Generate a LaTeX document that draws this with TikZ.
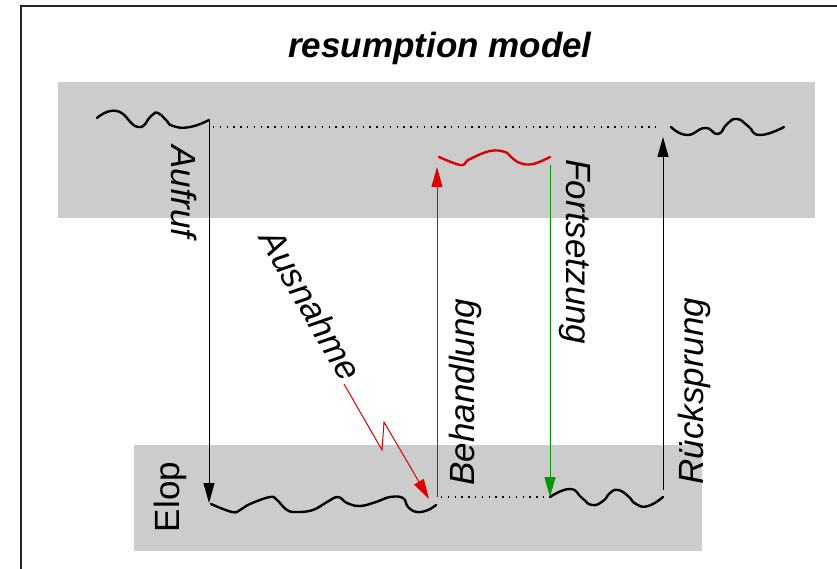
\documentclass[tikz,border=0pt]{standalone}
\usepackage{fontspec}
\setmainfont{Liberation Sans}
\usetikzlibrary{arrows.meta}
\definecolor{panel}{HTML}{CCCCCC}
\definecolor{exred}{HTML}{DD0000}
\definecolor{contgreen}{HTML}{009900}
\tikzset{
  panelbox/.style={fill=panel, draw=none},
  wave/.style={line width=2.4pt, line cap=round, line join=round},
  flow/.style={line width=1pt, -{Triangle[length=20pt, width=11pt]}},
  gap/.style={line width=1.2pt, dash pattern=on 1.4pt off 5.4pt},
  lbl/.style={inner sep=0pt, font=\fontsize{35}{40}\selectfont\itshape},
}
\begin{document}
\begin{tikzpicture}[x=1pt, y=-1pt]
  \useasboundingbox (0,0) rectangle (837,569);
  % frame
  \draw[line width=1.4pt, black!85] (21,569) -- (21,6) -- (837,6);
  % title
  \node[inner sep=0pt, font=\fontsize{35}{40}\selectfont\bfseries\itshape] (title) at (440,48) {resumption model};
  % grey panels
  \fill[panelbox] (58,82) rectangle (815,218);
  \fill[panelbox] (134,445) rectangle (702,551);

  % anchor points of the control flow
  \coordinate (callpt) at (209,120);
  \coordinate (elopin) at (209,503);
  \coordinate (handlerbot) at (437,497);
  \coordinate (handlertop) at (437,167);
  \coordinate (resumetop) at (550,165);
  \coordinate (resumebot) at (550,497);
  \coordinate (retbot) at (663,490);
  \coordinate (rettop) at (663,137);
  \coordinate (dotleft) at (213,127);
  \coordinate (dotright) at (659,127);
  \coordinate (bdotleft) at (441,497);
  \coordinate (bdotright) at (547,497);
  \coordinate (excstart) at (344,384);
  \coordinate (excbend) at (382,450);
  \coordinate (excback) at (384,422);
  \coordinate (exctip) at (429,499);

  % caller, before the call
  \draw[wave] plot[smooth, tension=0.9] coordinates {(97,118) (117,111) (138,127) (151,116) (158,113) (166,120) (173,126) (190,127) (209,120)};
  % caller, after the return
  \draw[wave] plot[smooth, tension=0.9] coordinates {(671,127) (687,135) (705,128) (718,134) (727,124) (737,119) (748,126) (760,135) (784,127)};
  % handler
  \draw[wave, exred] plot[smooth, tension=0.7] coordinates {(439,157) (460,165) (466,162) (470,159) (490,151) (505,152) (511,157) (520,163) (533,164) (550,157)};
  % called operation up to the exception
  \draw[wave] plot[smooth, tension=0.7] coordinates {(211,504) (232,512) (240,510) (250,504) (270,497) (277,500) (287,510) (297,512) (313,510) (327,502) (338,497) (347,503) (360,506) (376,502) (390,497) (403,498) (408,507) (417,512) (428,510) (436,505)};
  % called operation after the resumption
  \draw[wave] plot[smooth, tension=0.9] coordinates {(550,497) (570,489) (582,498) (592,505) (603,501) (610,493) (618,490) (628,496) (636,504) (648,506) (663,497)};

  % skipped parts
  \draw[gap] (dotleft) -- (dotright);
  \draw[gap] (bdotleft) -- (bdotright);

  % control transfers
  \draw[flow] (callpt) -- (elopin);
  \draw[flow, exred] (handlerbot) -- (handlertop);
  \draw[flow, contgreen] (resumetop) -- (resumebot);
  \draw[flow] (retbot) -- (rettop);
  \draw[flow, exred] (excstart) -- (excbend) -- (excback) -- (exctip);

  % labels
  \node[lbl, rotate=-90] (aufruf) at (184,192) {Aufruf};
  \node[lbl, rotate=-60] (ausnahme) at (311,305) {Ausnahme};
  \node[lbl, rotate=90] (behandlung) at (465,392) {Behandlung};
  \node[lbl, rotate=-90] (fortsetzung) at (575,252) {Fortsetzung};
  \node[lbl, rotate=90] (ruecksprung) at (694,391) {Rücksprung};
  \node[inner sep=0pt, font=\fontsize{35}{40}\selectfont, rotate=90] (elop) at (170,497) {Elop};
\end{tikzpicture}
\end{document}
